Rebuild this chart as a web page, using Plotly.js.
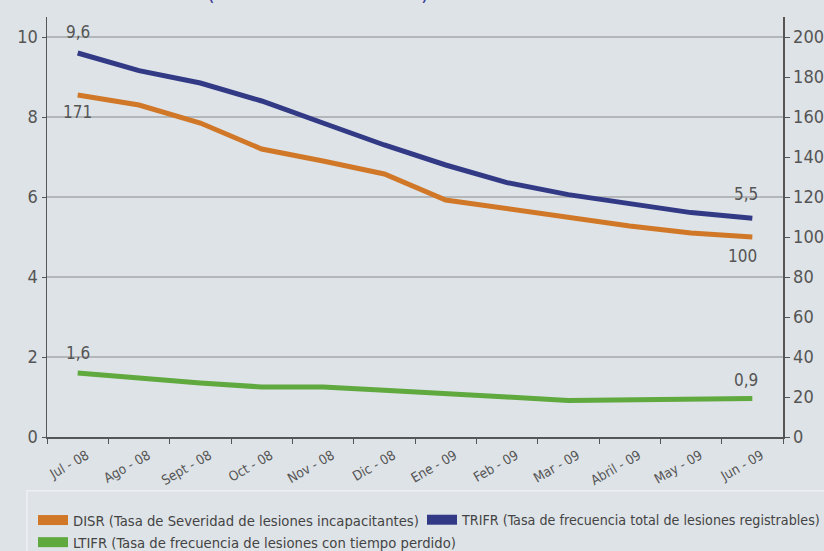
<!DOCTYPE html>
<html><head><meta charset="utf-8">
<script src="https://cdn.plot.ly/plotly-3.0.1.min.js"></script>
<style>body{margin:0;background:#dee3e7}</style>
</head><body><div id="chart" style="width:824px;height:551px"></div>
<script>
const months = ['Jul - 08','Ago - 08','Sept - 08','Oct - 08','Nov - 08','Dic - 08','Ene - 09','Feb - 09','Mar - 09','Abril - 09','May - 09','Jun - 09'];
const disr = [171,166,157,144,138,131.5,118.5,114,109.5,105.5,102,100];
const trifr = [9.6,9.16,8.85,8.4,7.85,7.3,6.8,6.36,6.06,5.84,5.61,5.47];
const ltifr = [1.6,1.47,1.35,1.25,1.25,1.17,1.1,1.0,0.91,0.93,0.95,0.96];
const seriesNames = ['DISR (Tasa de Severidad de lesiones incapacitantes)','TRIFR (Tasa de frecuencia total de lesiones registrables)','LTIFR (Tasa de frecuencia de lesiones con tiempo perdido)'];
const disrLabels = ['171','100'];
const trifrLabels = ['9,6','5,5'];
const ltifrLabels = ['1,6','0,9'];
const leftTicks = [0,2,4,6,8,10];
const rightTicks = [0,20,40,60,80,100,120,140,160,180,200];

const FONT = 'DejaVu Sans Condensed, DejaVu Sans, sans-serif';
const TXT = '#555555';
const cOr = '#d07828', cBl = '#323a86', cGr = '#5fa93f';
const last = months.length - 1;

const traces = [
  {x: months, y: disr, yaxis: 'y2', type: 'scatter', mode: 'lines', line: {color: cOr, width: 5}, showlegend: false, hoverinfo: 'skip'},
  {x: months, y: trifr, type: 'scatter', mode: 'lines', line: {color: cBl, width: 5}, showlegend: false, hoverinfo: 'skip'},
  {x: months, y: ltifr, type: 'scatter', mode: 'lines', line: {color: cGr, width: 5}, showlegend: false, hoverinfo: 'skip'},
  {x: [null], y: [null], name: seriesNames[0], type: 'scatter', mode: 'lines', line: {color: cOr, width: 16}, legend: 'legend'},
  {x: [null], y: [null], name: seriesNames[2], type: 'scatter', mode: 'lines', line: {color: cGr, width: 16}, legend: 'legend'},
  {x: [null], y: [null], name: seriesNames[1], type: 'scatter', mode: 'lines', line: {color: cBl, width: 16}, legend: 'legend2'}
];

const annFont = {family: FONT, size: 17, color: TXT};
const annotations = [
  {x: months[0], y: trifr[0], yref: 'y', text: trifrLabels[0], showarrow: false, yshift: 21, xshift: 0, font: annFont},
  {x: months[last], y: trifr[last], yref: 'y', text: trifrLabels[1], showarrow: false, yshift: 24, xshift: -6, font: annFont},
  {x: months[0], y: disr[0], yref: 'y2', text: disrLabels[0], showarrow: false, yshift: -17, xshift: 0, font: annFont},
  {x: months[last], y: disr[last], yref: 'y2', text: disrLabels[1], showarrow: false, yshift: -19, xshift: -10, font: annFont},
  {x: months[0], y: ltifr[0], yref: 'y', text: ltifrLabels[0], showarrow: false, yshift: 20, xshift: 0, font: annFont},
  {x: months[last], y: ltifr[last], yref: 'y', text: ltifrLabels[1], showarrow: false, yshift: 19, xshift: -6, font: annFont},
  {xref: 'paper', yref: 'paper', x: 0.2147, y: 1.024, yanchor: 'bottom', text: '(', showarrow: false, font: {family: FONT, size: 22, color: '#3b3b9a'}},
  {xref: 'paper', yref: 'paper', x: 0.5135, y: 1.024, yanchor: 'bottom', text: ')', showarrow: false, font: {family: FONT, size: 22, color: '#3b3b9a'}}
];

const legendCommon = {
  orientation: 'v', xanchor: 'left', yanchor: 'top', xref: 'paper', yref: 'paper',
  bgcolor: 'rgba(0,0,0,0)', borderwidth: 0, tracegroupgap: 0
};

const layout = {
  width: 824, height: 551,
  margin: {l: 47, r: 41, t: 17, b: 114, pad: 0, autoexpand: false},
  paper_bgcolor: '#dee3e7', plot_bgcolor: '#dee3e7',
  font: {family: FONT, color: TXT},
  showlegend: true,
  xaxis: {
    type: 'category', range: [-0.5, 11.5], tickson: 'boundaries', ticks: 'outside', ticklen: 5, tickcolor: '#555',
    showline: true, linecolor: '#555', linewidth: 1.5, showgrid: false, tickangle: -30,
    ticklabelshift: 9, ticklabelstandoff: 4,
    tickfont: {family: FONT, size: 13.5, color: TXT}, fixedrange: true
  },
  yaxis: {
    range: [0, 10.5], tickvals: leftTicks, ticks: 'outside', ticklen: 4, tickcolor: '#555',
    showline: true, linecolor: '#555', linewidth: 1.5, showgrid: true, gridcolor: '#b4b7ba', gridwidth: 1.5,
    zeroline: false, tickfont: {family: FONT, size: 18, color: TXT}
  },
  yaxis2: {
    range: [0, 210], tickvals: rightTicks, overlaying: 'y', side: 'right', ticks: 'outside', ticklen: 5, tickcolor: '#555',
    showline: true, linecolor: '#555', linewidth: 1.5, showgrid: false, zeroline: false,
    tickfont: {family: FONT, size: 18, color: TXT}
  },
  legend: Object.assign({}, legendCommon, {x: -0.019, y: -0.1595, font: {family: FONT, size: 14.7, color: '#444'}}),
  legend2: Object.assign({}, legendCommon, {x: 0.5095, y: -0.1595, font: {family: FONT, size: 14.2, color: '#444'}}),
  shapes: [
    {type: 'rect', xref: 'paper', yref: 'paper', x0: -0.0272, x1: 1.07, y0: -0.128, y1: -0.3,
     line: {color: '#eef1f3', width: 1.5}, fillcolor: 'rgba(0,0,0,0)', layer: 'below'}
  ],
  annotations: annotations
};

Plotly.newPlot('chart', traces, layout, {displayModeBar: false, staticPlot: true});
</script>
</body></html>
